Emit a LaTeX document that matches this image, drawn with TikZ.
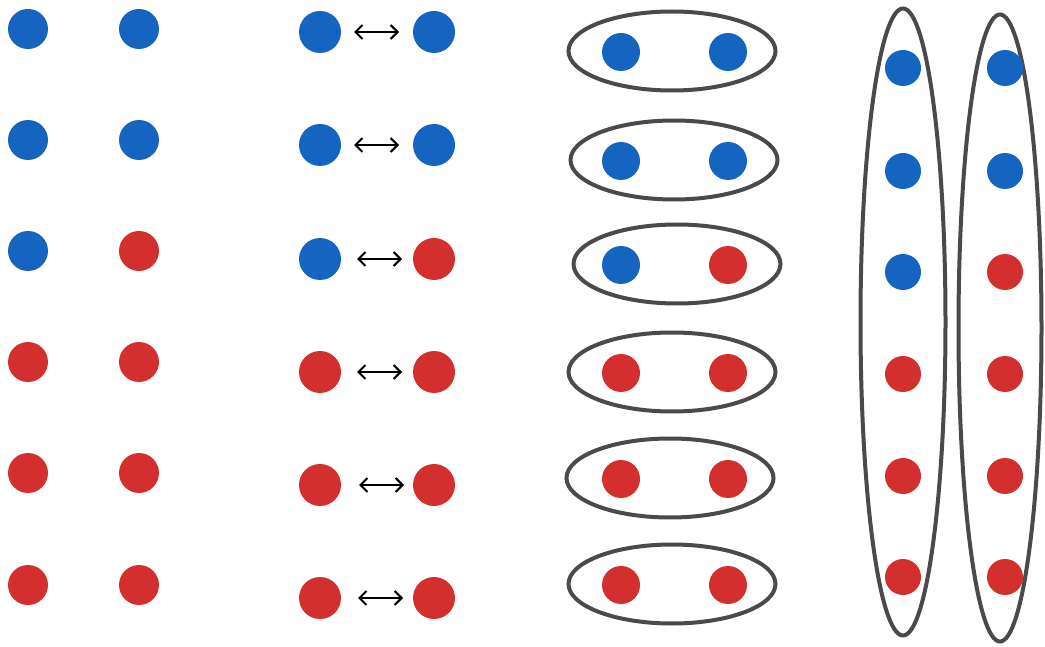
\documentclass[tikz,border=0pt]{standalone}
\usetikzlibrary{arrows.meta,shapes.geometric}
\definecolor{dotblue}{HTML}{1565C0}
\definecolor{dotred}{HTML}{D32F2F}
\definecolor{ringgray}{HTML}{4A4A4A}
\tikzset{
  dotA/.style={circle,inner sep=0pt,minimum size=40pt,fill=#1},
  dotB/.style={circle,inner sep=0pt,minimum size=42pt,fill=#1},
  dotC/.style={circle,inner sep=0pt,minimum size=38pt,fill=#1},
  dotD/.style={circle,inner sep=0pt,minimum size=36pt,fill=#1},
  ring/.style={ellipse,draw=ringgray,line width=4pt,inner sep=0pt},
  swap/.style={{Straight Barb[length=7pt,width=14pt]}-{Straight Barb[length=7pt,width=14pt]},line width=2pt,black},
}
\begin{document}
\begin{tikzpicture}[x=1pt,y=-1pt]
\useasboundingbox (0,0) rectangle (1045,647);
% column 1
\foreach \y/\cl/\cr [count=\i] in {29/dotblue/dotblue,140/dotblue/dotblue,251/dotblue/dotred,362/dotred/dotred,473/dotred/dotred,585/dotred/dotred}{
  \node[dotA=\cl] (a\i l) at (28,\y) {};
  \node[dotA=\cr] (a\i r) at (139,\y) {};
}
% column 2
\foreach \y/\cl/\cr/\sh [count=\i] in {32/dotblue/dotblue/0,145/dotblue/dotblue/0,259/dotblue/dotred/3,372/dotred/dotred/3,485/dotred/dotred/5,598/dotred/dotred/4}{
  \node[dotB=\cl] (b\i l) at (320,\y) {};
  \node[dotB=\cr] (b\i r) at (434,\y) {};
  \coordinate (b\i s) at ({354+\sh},\y);
  \coordinate (b\i e) at ({399+\sh},\y);
  \draw[swap] (b\i s) -- (b\i e);
}
% column 3
\foreach \cx/\cy/\cl/\cr [count=\i] in {672/51/dotblue/dotblue,674/160/dotblue/dotblue,677/264/dotblue/dotred,672/372/dotred/dotred,670/478/dotred/dotred,672/584/dotred/dotred}{
  \node[ring,minimum width=207pt,minimum height=79pt] (e\i) at (\cx,\cy) {};
  \node[dotC=\cl] (c\i l) at (621,\cy+1) {};
  \node[dotC=\cr] (c\i r) at (728,\cy+1) {};
}
% column 4
\node[ring,minimum width=85pt,minimum height=627pt] (t1) at (903,322) {};
\node[ring,minimum width=83pt,minimum height=627pt] (t2) at (1000,328) {};
\foreach \y/\cl/\cr [count=\i] in {68/dotblue/dotblue,171/dotblue/dotblue,272/dotblue/dotred,374/dotred/dotred,476/dotred/dotred,577/dotred/dotred}{
  \node[dotD=\cl] (d\i l) at (903,\y) {};
  \node[dotD=\cr] (d\i r) at (1005,\y) {};
}
\end{tikzpicture}
\end{document}
